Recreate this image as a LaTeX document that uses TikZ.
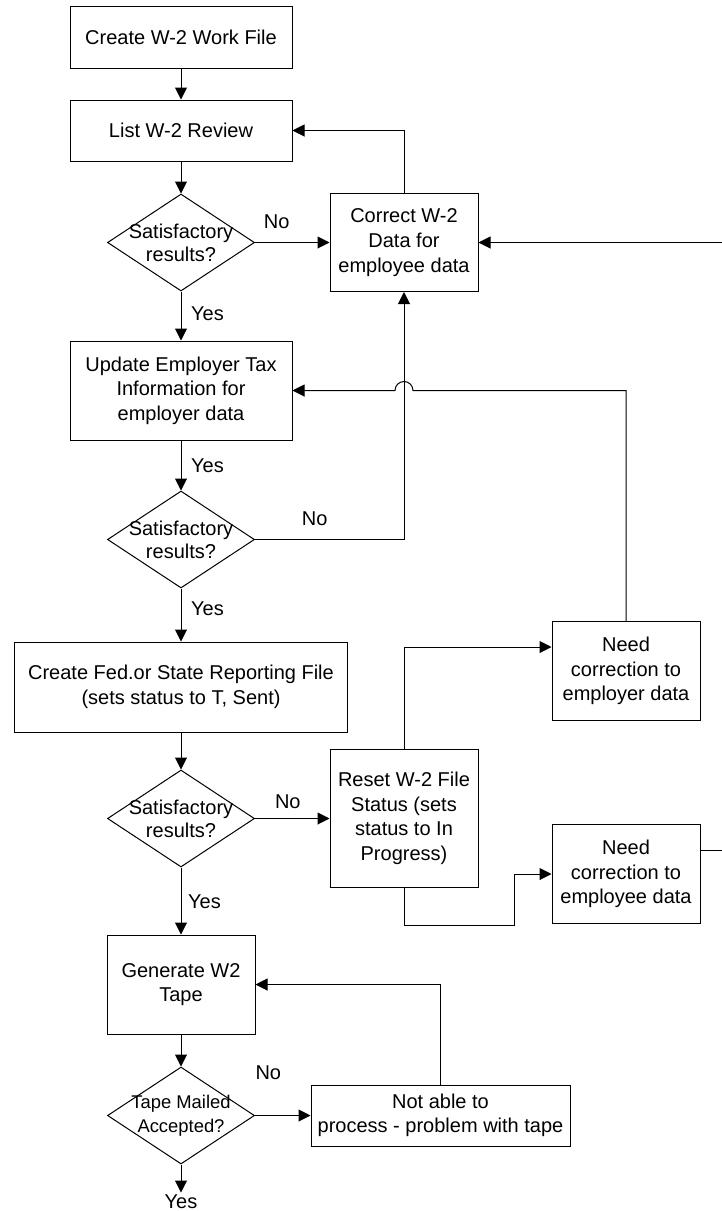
\documentclass[tikz,border=0pt]{standalone}
\usepackage{fontspec}
\setmainfont{Liberation Sans}
\usetikzlibrary{shapes.geometric,arrows.meta,positioning}

\begin{document}
\begin{tikzpicture}[font=\fontsize{10}{12.3}\selectfont]
  \tikzstyle{element}=[rectangle, draw, line width=0.5pt, align=center, inner sep=2pt]
  \tikzstyle{wide}=[element, minimum width=111pt]
  \tikzstyle{narrow}=[element, minimum width=74pt, minimum height=49.5pt]
  \tikzstyle{decision}=[diamond, draw, line width=0.5pt, minimum width=73.5pt, minimum height=48.5pt, inner sep=0pt]
  \tikzstyle{question}=[align=center, font=\fontsize{10}{11.6}\selectfont]
  \tikzstyle{leadsto}=[-{Triangle[length=6pt, width=6pt]}, line width=0.5pt]

  \useasboundingbox (0,0) rectangle (361pt,-605.5pt);

  % = main column =
  \node[wide, minimum height=31pt] (workfile) at (90.5pt,-18.5pt) {Create W-2 Work File};
  \node[wide, minimum height=30.5pt, below=15.5pt of workfile] (review) {List W-2 Review};
  \node[decision, below=16pt of review,
        label={[question]center:Satisfactory\\results?}] (check1) {};
  \node[wide, minimum height=49.5pt, below=24.5pt of check1] (taxinfo)
      {Update Employer Tax\\Information for\\employer data};
  \node[decision, below=25pt of taxinfo,
        label={[question]center:Satisfactory\\results?}] (check2) {};
  \node[element, minimum width=166.5pt, minimum height=45pt, below=26.5pt of check2] (repfile)
      {Create Fed.or State Reporting File\\(sets status to T, Sent)};
  \node[decision, below=18.5pt of repfile,
        label={[question]center:Satisfactory\\results?}] (check3) {};
  \node[narrow, below=33.5pt of check3] (tapegen) {Generate W2\\Tape};
  \node[decision, below=16pt of tapegen,
        label={[question, font=\fontsize{9.2}{11.8}\selectfont]center:Tape Mailed\\Accepted?}] (check4) {};
  \node[below=14pt of check4, inner sep=1pt] (accepted) {Yes};

  % = corrections =
  \node[element, minimum width=74pt, minimum height=49pt, right=37.25pt of check1] (fixemployee)
      {Correct W-2\\Data for\\employee data};
  \node[element, minimum width=74pt, minimum height=69pt, right=37.25pt of check3] (resetfile)
      {Reset W-2 File\\Status (sets\\status to In\\Progress)};
  \node[narrow, right=36.5pt of resetfile, yshift=73.75pt] (fixer)
      {Need\\correction to\\employer data};
  \node[narrow, right=36.5pt of resetfile, yshift=-27.75pt] (fixee)
      {Need\\correction to\\employee data};
  \node[element, minimum width=129.5pt, minimum height=30.5pt, right=27.75pt of check4] (tapeproblem)
      {Not able to\\process - problem with tape};

  % straight down the column
  \draw[leadsto] (workfile) -- (review);
  \draw[leadsto] (review) -- (check1);
  \draw[leadsto] (check1) -- node[right=1.5pt, pos=0.45] {Yes} (taxinfo);
  \draw[leadsto] (taxinfo) -- node[right=1.5pt, pos=0.51] {Yes} (check2);
  \draw[leadsto] (check2) -- node[right=1.5pt, pos=0.39] {Yes} (repfile);
  \draw[leadsto] (repfile) -- (check3);
  \draw[leadsto] (check3) -- node[right, pos=0.51] {Yes} (tapegen);
  \draw[leadsto] (tapegen) -- (check4);
  \draw[leadsto] (check4) -- (accepted);

  % the "No" branches
  \draw[leadsto] (check1.east) -- node[above=3.5pt, pos=0.29] {No} (fixemployee.west);
  \draw[leadsto] (check2.east) -| node[above=3.5pt, pos=0.2] {No} (fixemployee.south);
  \draw[leadsto] (check3.east) -- node[above=1.5pt, pos=0.44] {No} (resetfile.west);
  \draw[leadsto] (check4.east) -- node[above=14.5pt, pos=0.24] {No} (tapeproblem.west);

  % loops back
  \draw[leadsto] (fixemployee.north) |- (review.east);
  \coordinate (hop) at (fixemployee |- taxinfo.east);
  \draw[leadsto] (fixer.north) |- ([xshift=4.5pt]hop)
      arc[start angle=0, end angle=180, radius=4.5pt] -- (taxinfo.east);
  \draw[leadsto] (resetfile.north) |- ([yshift=12pt]fixer.west);
  \draw[leadsto] (resetfile.south) |- ++(55pt,-18.5pt) |- (fixee.west);
  \draw[leadsto] ([yshift=12pt]fixee.east) -- ++(13pt,0) |- (fixemployee.east);
  \draw[leadsto] (tapeproblem.north) |- (tapegen.east);
\end{tikzpicture}
\end{document}
